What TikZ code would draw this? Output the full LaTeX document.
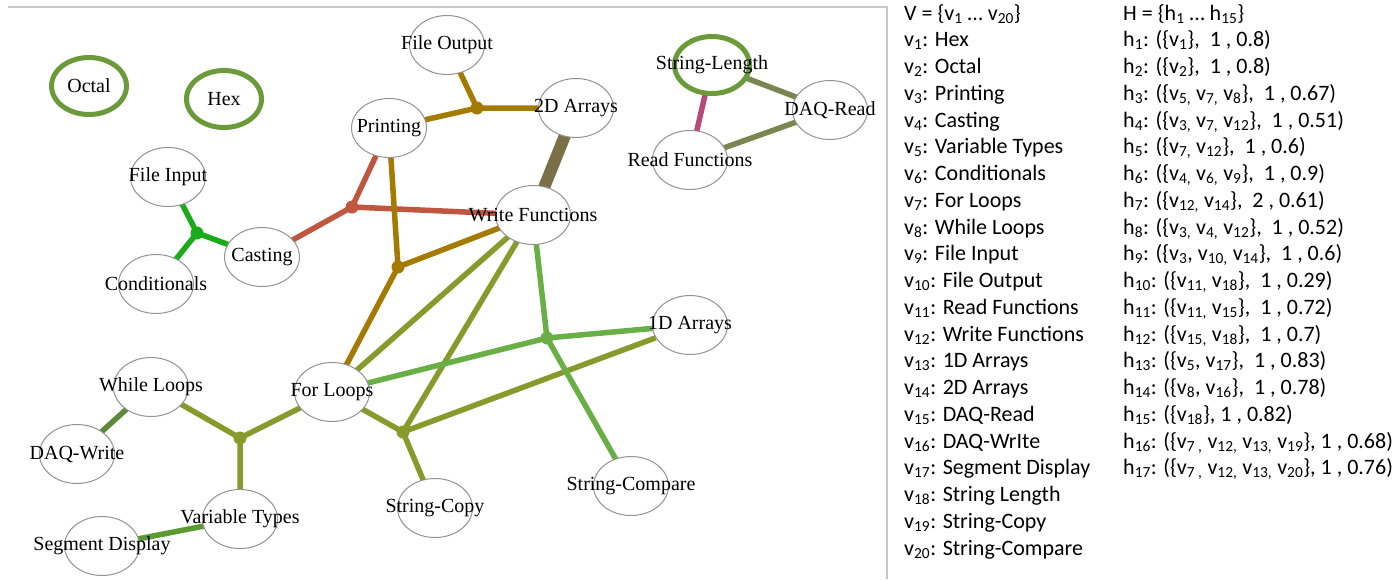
\documentclass[tikz,border=0pt]{standalone}
\usepackage{fontspec}
\setmainfont{Liberation Serif}
\newfontfamily\listfont{Carlito}
\usetikzlibrary{shapes.geometric}
\pgfdeclarelayer{background}
\pgfsetlayers{background,main}
\definecolor{ringgreen}{HTML}{6A9A3A}
\definecolor{frameGray}{HTML}{C8C8C8}
\definecolor{hInput}{HTML}{1AAB1A}
\definecolor{hCast}{HTML}{C0563F}
\definecolor{hGold}{HTML}{A47A00}
\definecolor{hArr}{HTML}{7B6F47}
\definecolor{hDaq}{HTML}{7A8650}
\definecolor{hLen}{HTML}{B54A78}
\definecolor{hOlive}{HTML}{879A2B}
\definecolor{hLight}{HTML}{6AAF45}
\definecolor{hSeg}{HTML}{5A9A30}
\definecolor{hWhile}{HTML}{5C8A3A}
\newcommand\topicfont{\fontsize{20}{22}\selectfont}
\newcommand\listsize{\listfont\fontsize{22}{26.75}\selectfont}
\newcommand\zw[1]{\makebox[0pt]{#1}}
\newcommand\vtx[1]{v\textsubscript{#1}}
\newcommand\hed[1]{h\textsubscript{#1}}
\tikzset{
  topic/.style={ellipse, draw=gray!85, line width=1pt, fill=white, minimum width=75pt,
    minimum height=59pt, inner sep=0pt, font=\topicfont},
  single/.style={topic, draw=ringgreen, line width=5pt, minimum height=57pt},
  hub/.style={circle, fill=#1, inner sep=0pt, minimum size=13pt},
  link/.style={line width=5.5pt, draw=#1},
}

\begin{document}
\begin{tikzpicture}[x=1pt,y=-1pt]
\useasboundingbox (0,0) rectangle (1400,579);
\draw[frameGray, line width=1.5pt] (8,7) -- (887,7) -- (887,579);
% Drawing topics
\node[single] (octal) at (89,86) {\zw{Octal}};
\node[single] (hex) at (224,99) {\zw{Hex}};
\node[single] (strlen) at (712,65) {\zw{String-Length}};
\node[topic] (fout) at (447,45) {\zw{File Output}};
\node[topic] (prnt) at (389,128) {\zw{Printing}};
\node[topic] (arr2) at (576,108) {\zw{2D Arrays}};
\node[topic] (daqr) at (830,110) {\zw{DAQ-Read}};
\node[topic] (rdfn) at (690,160) {\zw{Read Functions}};
\node[topic] (wrfn) at (533,215) {\zw{Write Functions}};
\node[topic] (fin) at (168,177) {\zw{File Input}};
\node[topic] (cast) at (262,257) {\zw{Casting}};
\node[topic] (cond) at (156,284) {\zw{Conditionals}};
\node[topic] (whl) at (151,387) {\zw{While Loops}};
\node[topic] (daqw) at (77,454) {\zw{DAQ-Write}};
\node[topic] (forl) at (332,392) {\zw{For Loops}};
\node[topic] (vart) at (240,519) {\zw{Variable Types}};
\node[topic] (segd) at (102,546) {\zw{Segment Display}};
\node[topic] (strcp) at (435,508) {\zw{String-Copy}};
\node[topic] (strcmp) at (631,486) {\zw{String-Compare}};
\node[topic] (arr1) at (690,325) {\zw{1D Arrays}};
% Done with topics; drawing hubs
\node[hub=hInput] (hbin) at (197,233) {};
\node[hub=hGold] (hbout) at (477,108) {};
\node[hub=hCast] (hbcast) at (352,207) {};
\node[hub=hGold] (hbprnt) at (398,267) {};
\node[hub=hOlive] (hbvart) at (240,438) {};
\node[hub=hOlive] (hbcopy) at (403,432) {};
\node[hub=hLight] (hbcmp) at (547,338) {};
% Done with hubs; drawing hyperedges
\begin{pgfonlayer}{background}
\draw[link=hInput] (hbin.center) -- (fin.center) (hbin.center) -- (cond.center) (hbin.center) -- (cast.center);
\draw[link=hGold] (hbout.center) -- (fout.center) (hbout.center) -- (prnt.center) (hbout.center) -- (arr2.center);
\draw[link=hCast] (hbcast.center) -- (prnt.center) (hbcast.center) -- (cast.center) (hbcast.center) -- (wrfn.center);
\draw[link=hGold] (hbprnt.center) -- (prnt.center) (hbprnt.center) -- (forl.center) (hbprnt.center) -- (wrfn.center);
\draw[link=hOlive] (hbvart.center) -- (whl.center) (hbvart.center) -- (forl.center) (hbvart.center) -- (vart.center);
\draw[link=hOlive] (hbcopy.center) -- (forl.center) (hbcopy.center) -- (strcp.center)
  (hbcopy.center) -- (wrfn.center) (hbcopy.center) -- (arr1);
\draw[link=hLight] (hbcmp.center) -- (forl.center) (hbcmp.center) -- (wrfn.center)
  (hbcmp.center) -- (arr1.center) (hbcmp.center) -- (strcmp.center);
\draw[link=hOlive] (forl.center) -- (wrfn.center);
\draw[link=hArr, line width=12pt] (arr2.center) -- (wrfn.center);
\draw[link=hDaq] (strlen.center) -- (daqr.center);
\draw[link=hDaq] (rdfn.center) -- (daqr.center);
\draw[link=hLen] (strlen.center) -- (rdfn.center);
\draw[link=hWhile] (whl.center) -- (daqw.center);
\draw[link=hSeg] (vart.center) -- (segd.center);
\end{pgfonlayer}
% Done with hyperedges; drawing the lists
\node[anchor=base west, align=left, inner sep=0pt, font=\listsize]
  (vlist) at (904,555) {V = \{\vtx{1} … \vtx{20}\}\\
  \vtx{1}: Hex\\ \vtx{2}: Octal\\ \vtx{3}: Printing\\ \vtx{4}: Casting\\
  \vtx{5}: Variable Types\\ \vtx{6}: Conditionals\\ \vtx{7}: For Loops\\
  \vtx{8}: While Loops\\ \vtx{9}: File Input\\ \vtx{10}: File Output\\
  \vtx{11}: Read Functions\\ \vtx{12}: Write Functions\\ \vtx{13}: 1D Arrays\\
  \vtx{14}: 2D Arrays\\ \vtx{15}: DAQ-Read\\ \vtx{16}: DAQ-WrIte\\
  \vtx{17}: Segment Display\\ \vtx{18}: String Length\\ \vtx{19}: String-Copy\\
  \vtx{20}: String-Compare};
\node[anchor=base west, align=left, inner sep=0pt, font=\listsize]
  (hlist) at (1123,474.75) {H = \{\hed{1} … \hed{15}\}\\
  \hed{1}: (\{\vtx{1}\},~ 1 , 0.8)\\
  \hed{2}: (\{\vtx{2}\},~ 1 , 0.8)\\
  \hed{3}: (\{\vtx{5,} \vtx{7,} \vtx{8}\},~ 1 , 0.67)\\
  \hed{4}: (\{\vtx{3,} \vtx{7,} \vtx{12}\},~ 1 , 0.51)\\
  \hed{5}: (\{\vtx{7,} \vtx{12}\},~ 1 , 0.6)\\
  \hed{6}: (\{\vtx{4,} \vtx{6,} \vtx{9}\},~ 1 , 0.9)\\
  \hed{7}: (\{\vtx{12,} \vtx{14}\},~ 2 , 0.61)\\
  \hed{8}: (\{\vtx{3,} \vtx{4,} \vtx{12}\},~ 1 , 0.52)\\
  \hed{9}: (\{\vtx{3}, \vtx{10,} \vtx{14}\},~ 1 , 0.6)\\
  \hed{10}: (\{\vtx{11,} \vtx{18}\},~ 1 , 0.29)\\
  \hed{11}: (\{\vtx{11,} \vtx{15}\},~ 1 , 0.72)\\
  \hed{12}: (\{\vtx{15,} \vtx{18}\},~ 1 , 0.7)\\
  \hed{13}: (\{\vtx{5}, \vtx{17}\},~ 1 , 0.83)\\
  \hed{14}: (\{\vtx{8}, \vtx{16}\},~ 1 , 0.78)\\
  \hed{15}: (\{\vtx{18}\}, 1 , 0.82)\\
  \hed{16}: (\{\vtx{7 ,} \vtx{12,} \vtx{13,} \vtx{19}\}, 1 , 0.68)\\
  \hed{17}: (\{\vtx{7 ,} \vtx{12,} \vtx{13,} \vtx{20}\}, 1 , 0.76)};
% Done with the lists
\end{tikzpicture}
\end{document}
